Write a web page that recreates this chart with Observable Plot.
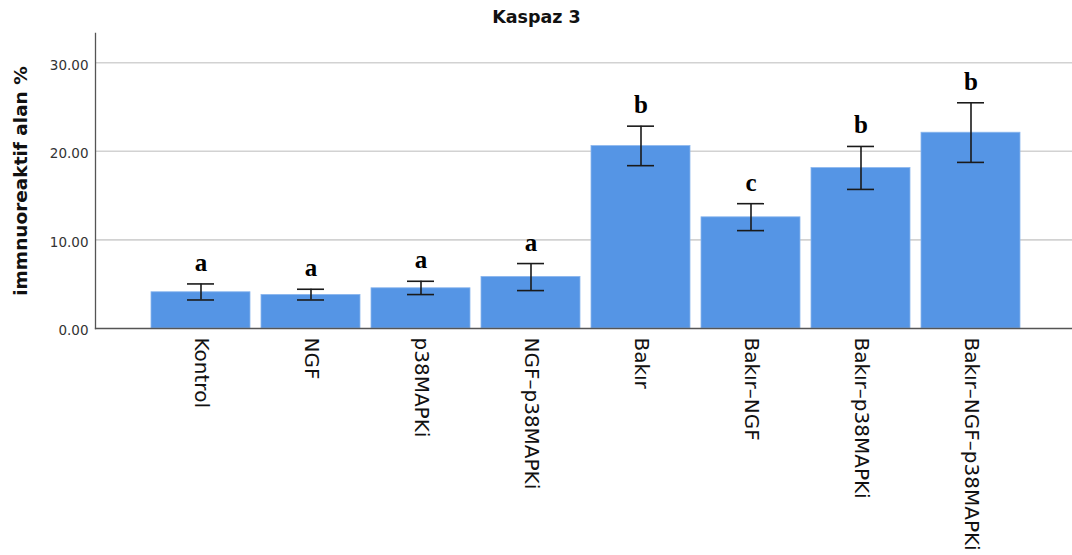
<!DOCTYPE html>
<html>
<head>
<meta charset="utf-8">
<script src="https://cdn.jsdelivr.net/npm/d3@7"></script>
<script src="https://cdn.jsdelivr.net/npm/@observablehq/plot@0.6"></script>
<style>
  html, body { margin: 0; padding: 0; background: #fff; }
  #chart { width: 1072px; height: 555px; }
</style>
</head>
<body>
<div id="chart"></div>
<script>
const categories = ["Kontrol", "NGF", "p38MAPKi", "NGF–p38MAPKi", "Bakır", "Bakır–NGF", "Bakır–p38MAPKi", "Bakır–NGF–p38MAPKi"];
const means = [4.09, 3.79, 4.54, 5.82, 20.59, 12.55, 18.11, 22.10];
const upper = [5.03, 4.43, 5.33, 7.33, 22.84, 14.09, 20.55, 25.48];
const lower = [3.22, 3.22, 3.83, 4.28, 18.38, 11.05, 15.70, 18.75];
const letters = ["a", "a", "a", "a", "b", "c", "b", "b"];
const yTicks = [0, 10, 20, 30];
const gridTicks = [10, 20, 30];
const title = "Kaspaz 3";
const yLabel = "immnuoreaktif alan %";

const data = categories.map((c, i) => ({cat: c, mean: means[i], hi: upper[i], lo: lower[i], letter: letters[i]}));

const chart = Plot.plot({
  width: 1072,
  height: 555,
  marginTop: 33,
  marginBottom: 227,
  marginLeft: 95,
  marginRight: 0,
  style: {fontFamily: "DejaVu Sans", background: "#fff"},
  x: {domain: categories, paddingInner: 0.1, paddingOuter: 0.479, align: 0.514, label: null},
  y: {domain: [0, 33.3], label: null},
  marks: [
    Plot.ruleY(gridTicks, {stroke: "#d2d2d2", strokeWidth: 1.6}),
    Plot.barY(data, {x: "cat", y: "mean", fill: "#5595e5", stroke: "#8ab6ee", strokeWidth: 0.8}),
    Plot.ruleX(data, {x: "cat", y1: "lo", y2: "hi", stroke: "#1a1a1a", strokeWidth: 1.6}),
    Plot.tickY(data, {x: "cat", y: "hi", stroke: "#1a1a1a", strokeWidth: 1.6, insetLeft: 36, insetRight: 36}),
    Plot.tickY(data, {x: "cat", y: "lo", stroke: "#1a1a1a", strokeWidth: 1.6, insetLeft: 36, insetRight: 36}),
    Plot.text(data, {x: "cat", y: "hi", text: "letter", lineAnchor: "bottom", dy: -13, fontFamily: "Liberation Serif", fontWeight: "bold", fontSize: 25, fill: "#000"}),
    Plot.frame({anchor: "left", stroke: "#555", strokeWidth: 1.3}),
    Plot.frame({anchor: "bottom", stroke: "#555", strokeWidth: 1.3}),
    Plot.axisY({ticks: yTicks, tickFormat: d => d.toFixed(2), tickSize: 0, tickPadding: 7, fontSize: 13.5, fill: "#333", dy: 2.5, label: null}),
    Plot.axisX({tickRotate: 90, tickSize: 0, tickPadding: 9, fontSize: 20, fill: "#111", label: null}),
    Plot.text([yLabel], {frameAnchor: "left", text: d => d, rotate: -90, textAnchor: "middle", lineAnchor: "middle", dx: -74, fontSize: 18.5, fontWeight: "bold", fill: "#111"}),
    Plot.text([title], {frameAnchor: "top", text: d => d, textAnchor: "middle", lineAnchor: "bottom", dx: -47.5, dy: -11, fontSize: 17.5, fontWeight: "bold", fill: "#111"})
  ]
});
document.getElementById("chart").appendChild(chart);
</script>
</body>
</html>
